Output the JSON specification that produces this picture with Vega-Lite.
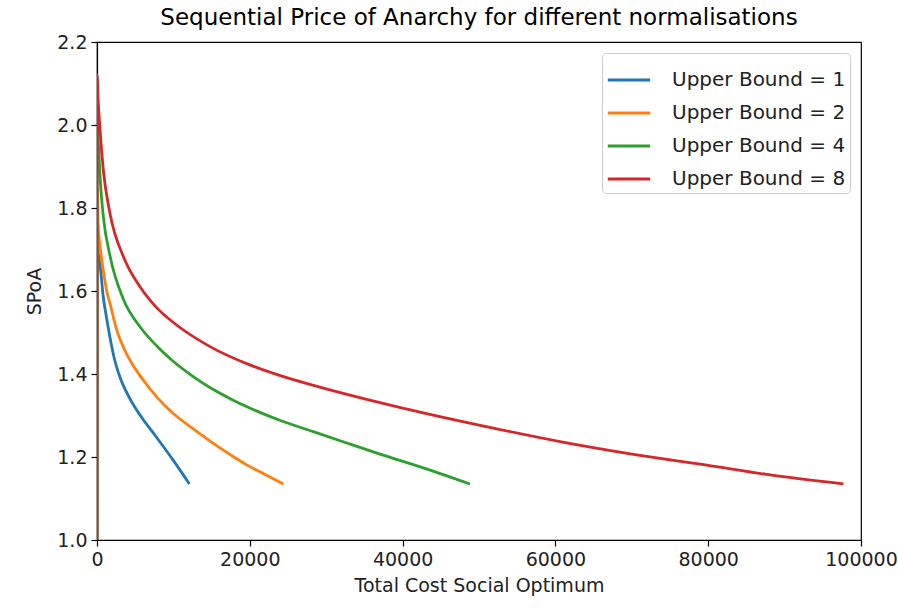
{
  "$schema": "https://vega.github.io/schema/vega-lite/v6.json",
  "width": 764,
  "height": 498,
  "autosize": {"type": "none"},
  "padding": {"left": 97, "top": 42, "right": 37, "bottom": 71},
  "background": "white",
  "title": {
    "text": "Sequential Price of Anarchy for different normalisations",
    "font": "DejaVu Sans",
    "fontSize": 23,
    "fontWeight": "normal",
    "color": "#000000",
    "offset": 3,
    "anchor": "middle"
  },
  "data": {
    "values": [
      {"s": "Upper Bound = 1", "x": 0, "y": 1.0},
      {"s": "Upper Bound = 1", "x": 20, "y": 1.75},
      {"s": "Upper Bound = 1", "x": 120, "y": 1.70},
      {"s": "Upper Bound = 1", "x": 390, "y": 1.665},
      {"s": "Upper Bound = 1", "x": 825, "y": 1.585},
      {"s": "Upper Bound = 1", "x": 1300, "y": 1.53},
      {"s": "Upper Bound = 1", "x": 1700, "y": 1.488},
      {"s": "Upper Bound = 1", "x": 2300, "y": 1.435},
      {"s": "Upper Bound = 1", "x": 3010, "y": 1.392},
      {"s": "Upper Bound = 1", "x": 4320, "y": 1.340},
      {"s": "Upper Bound = 1", "x": 5630, "y": 1.301},
      {"s": "Upper Bound = 1", "x": 7810, "y": 1.247},
      {"s": "Upper Bound = 1", "x": 9990, "y": 1.192},
      {"s": "Upper Bound = 1", "x": 12100, "y": 1.135},
      {"s": "Upper Bound = 2", "x": 0, "y": 1.0},
      {"s": "Upper Bound = 2", "x": 20, "y": 1.85},
      {"s": "Upper Bound = 2", "x": 150, "y": 1.76},
      {"s": "Upper Bound = 2", "x": 390, "y": 1.71},
      {"s": "Upper Bound = 2", "x": 825, "y": 1.65},
      {"s": "Upper Bound = 2", "x": 1270, "y": 1.60},
      {"s": "Upper Bound = 2", "x": 1700, "y": 1.570},
      {"s": "Upper Bound = 2", "x": 2570, "y": 1.507},
      {"s": "Upper Bound = 2", "x": 3440, "y": 1.465},
      {"s": "Upper Bound = 2", "x": 4750, "y": 1.420},
      {"s": "Upper Bound = 2", "x": 5630, "y": 1.396},
      {"s": "Upper Bound = 2", "x": 7810, "y": 1.345},
      {"s": "Upper Bound = 2", "x": 9990, "y": 1.305},
      {"s": "Upper Bound = 2", "x": 13050, "y": 1.262},
      {"s": "Upper Bound = 2", "x": 15230, "y": 1.233},
      {"s": "Upper Bound = 2", "x": 17500, "y": 1.205},
      {"s": "Upper Bound = 2", "x": 19590, "y": 1.181},
      {"s": "Upper Bound = 2", "x": 22000, "y": 1.158},
      {"s": "Upper Bound = 2", "x": 24400, "y": 1.135},
      {"s": "Upper Bound = 4", "x": 0, "y": 1.0},
      {"s": "Upper Bound = 4", "x": 20, "y": 2.0},
      {"s": "Upper Bound = 4", "x": 170, "y": 1.96},
      {"s": "Upper Bound = 4", "x": 450, "y": 1.86},
      {"s": "Upper Bound = 4", "x": 825, "y": 1.78},
      {"s": "Upper Bound = 4", "x": 1700, "y": 1.685},
      {"s": "Upper Bound = 4", "x": 3450, "y": 1.58},
      {"s": "Upper Bound = 4", "x": 5630, "y": 1.514},
      {"s": "Upper Bound = 4", "x": 7800, "y": 1.468},
      {"s": "Upper Bound = 4", "x": 10000, "y": 1.43},
      {"s": "Upper Bound = 4", "x": 12500, "y": 1.395},
      {"s": "Upper Bound = 4", "x": 15000, "y": 1.365},
      {"s": "Upper Bound = 4", "x": 17500, "y": 1.34},
      {"s": "Upper Bound = 4", "x": 20000, "y": 1.318},
      {"s": "Upper Bound = 4", "x": 24000, "y": 1.288},
      {"s": "Upper Bound = 4", "x": 28310, "y": 1.261},
      {"s": "Upper Bound = 4", "x": 32500, "y": 1.235},
      {"s": "Upper Bound = 4", "x": 37040, "y": 1.207},
      {"s": "Upper Bound = 4", "x": 43000, "y": 1.172},
      {"s": "Upper Bound = 4", "x": 48820, "y": 1.135},
      {"s": "Upper Bound = 8", "x": 0, "y": 1.0},
      {"s": "Upper Bound = 8", "x": 20, "y": 2.12},
      {"s": "Upper Bound = 8", "x": 150, "y": 2.06},
      {"s": "Upper Bound = 8", "x": 390, "y": 1.99},
      {"s": "Upper Bound = 8", "x": 825, "y": 1.892},
      {"s": "Upper Bound = 8", "x": 1700, "y": 1.787},
      {"s": "Upper Bound = 8", "x": 3450, "y": 1.683},
      {"s": "Upper Bound = 8", "x": 5630, "y": 1.61},
      {"s": "Upper Bound = 8", "x": 7800, "y": 1.56},
      {"s": "Upper Bound = 8", "x": 10000, "y": 1.524},
      {"s": "Upper Bound = 8", "x": 14790, "y": 1.466},
      {"s": "Upper Bound = 8", "x": 20000, "y": 1.422},
      {"s": "Upper Bound = 8", "x": 24000, "y": 1.396},
      {"s": "Upper Bound = 8", "x": 29620, "y": 1.366},
      {"s": "Upper Bound = 8", "x": 35300, "y": 1.339},
      {"s": "Upper Bound = 8", "x": 40000, "y": 1.318},
      {"s": "Upper Bound = 8", "x": 50000, "y": 1.277},
      {"s": "Upper Bound = 8", "x": 61480, "y": 1.234},
      {"s": "Upper Bound = 8", "x": 70000, "y": 1.207},
      {"s": "Upper Bound = 8", "x": 80000, "y": 1.18},
      {"s": "Upper Bound = 8", "x": 87650, "y": 1.158},
      {"s": "Upper Bound = 8", "x": 97700, "y": 1.135}
    ]
  },
  "mark": {"type": "line", "strokeWidth": 2.8, "clip": true, "interpolate": "monotone"},
  "encoding": {
    "x": {
      "field": "x",
      "type": "quantitative",
      "scale": {"domain": [0, 100000], "nice": false, "zero": false},
      "axis": {
        "title": "Total Cost Social Optimum",
        "values": [0, 20000, 40000, 60000, 80000, 100000],
        "format": "d",
        "grid": false,
        "labelFlush": false
      }
    },
    "y": {
      "field": "y",
      "type": "quantitative",
      "scale": {"domain": [1.0, 2.2], "nice": false, "zero": false},
      "axis": {
        "title": "SPoA",
        "values": [1.0, 1.2, 1.4, 1.6, 1.8, 2.0, 2.2],
        "format": ".1f",
        "grid": false,
        "labelFlush": false
      }
    },
    "color": {
      "field": "s",
      "type": "nominal",
      "scale": {
        "domain": ["Upper Bound = 1", "Upper Bound = 2", "Upper Bound = 4", "Upper Bound = 8"],
        "range": ["#1f77b4", "#ff7f0e", "#2ca02c", "#d62728"]
      },
      "legend": {
        "title": null,
        "orient": "top-right",
        "offset": 11,
        "fillColor": "white",
        "strokeColor": "#cccccc",
        "cornerRadius": 4,
        "padding": 4,
        "symbolType": "stroke",
        "symbolStrokeWidth": 3,
        "symbolSize": 1800,
        "labelFontSize": 20,
        "labelFont": "DejaVu Sans",
        "labelColor": "#222222",
        "labelOffset": 20,
        "labelLimit": 400,
        "rowPadding": -6
      }
    }
  },
  "config": {
    "view": {"stroke": "#000000", "strokeWidth": 1.2},
    "axis": {
      "domainColor": "#000000",
      "domainWidth": 1.2,
      "tickColor": "#000000",
      "tickWidth": 1.2,
      "tickSize": 6,
      "labelFont": "DejaVu Sans",
      "labelFontSize": 19,
      "labelColor": "#222222",
      "labelPadding": 4,
      "titleFont": "DejaVu Sans",
      "titleFontSize": 19,
      "titleFontWeight": "normal",
      "titleColor": "#222222"
    },
    "axisX": {"titlePadding": 7},
    "axisY": {"titlePadding": 12}
  }
}
